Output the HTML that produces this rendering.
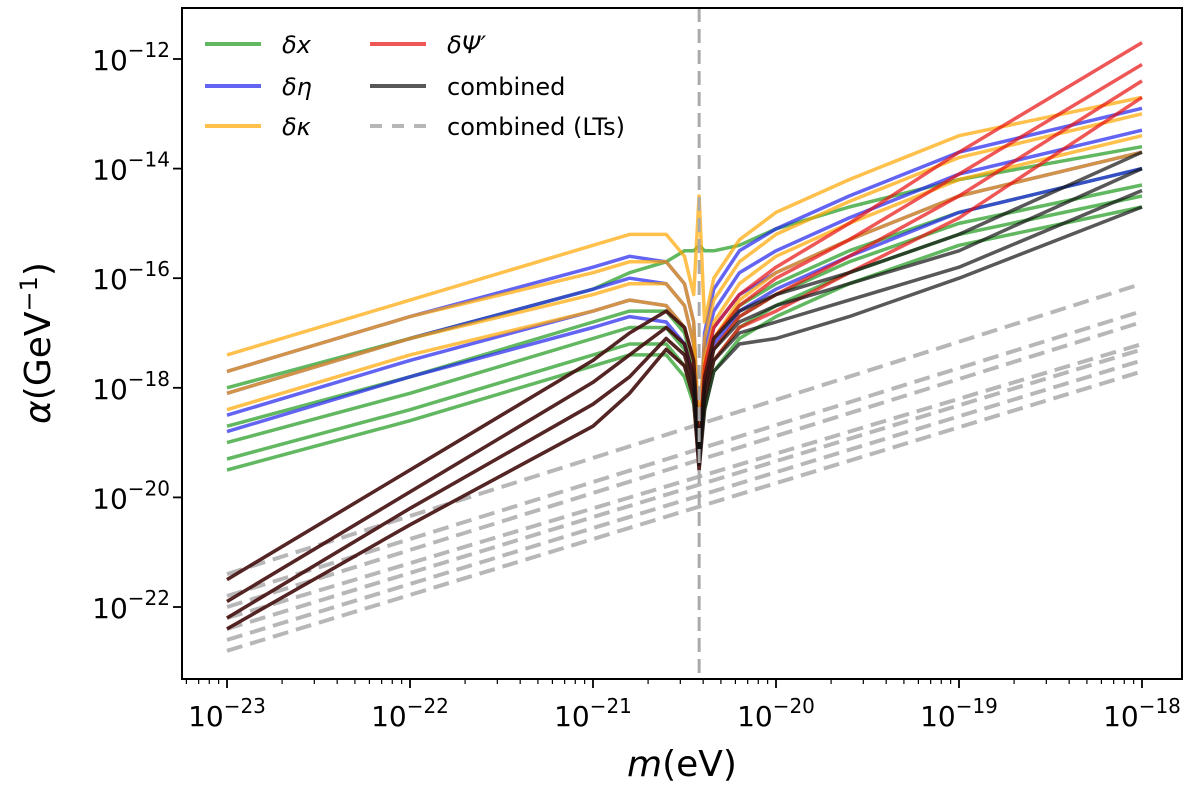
<!DOCTYPE html>
<html><head><meta charset="utf-8"><style>
html,body{margin:0;padding:0;background:#fff;}
svg{display:block;font-family:"DejaVu Sans","Liberation Sans",sans-serif;}
</style></head><body>
<svg id="chart" width="1200" height="785" viewBox="0 0 1200 785" xmlns="http://www.w3.org/2000/svg"></svg>
<script>
// mass grid (log10 m in eV)
const masses = [-23,-22,-21,-20.8,-20.6,-20.5,-20.45,-20.42,-20.39,-20.34,-20.2,-20,-19.6,-19,-18];
const greenSeries = [
 [-18.0,-17.1,-16.2,-15.9,-15.7,-15.5,-15.5,-15.4,-15.5,-15.5,-15.4,-15.1,-14.7,-14.2,-13.6],
 [-18.7,-17.8,-16.8,-16.6,-16.6,-17.0,-17.6,-19.0,-17.8,-17.1,-16.5,-16.1,-15.5,-14.8,-14.0],
 [-19.0,-18.1,-17.1,-16.9,-16.9,-17.3,-17.9,-19.1,-18.0,-17.3,-16.7,-16.3,-15.7,-15.0,-14.3],
 [-19.3,-18.4,-17.4,-17.2,-17.2,-17.6,-18.1,-19.2,-18.2,-17.5,-16.9,-16.5,-15.9,-15.2,-14.5],
 [-19.5,-18.6,-17.6,-17.4,-17.4,-17.8,-18.3,-19.3,-18.4,-17.7,-17.1,-16.7,-16.1,-15.4,-14.7]
];
const blueSeries = [
 [-17.7,-16.7,-15.8,-15.6,-15.7,-16.1,-16.8,-19.0,-17.0,-16.2,-15.5,-15.1,-14.5,-13.7,-12.9],
 [-18.1,-17.1,-16.2,-16.0,-16.1,-16.5,-17.2,-19.1,-17.3,-16.6,-15.9,-15.5,-14.9,-14.1,-13.3],
 [-18.5,-17.5,-16.6,-16.4,-16.5,-16.9,-17.5,-19.2,-17.6,-16.9,-16.3,-15.9,-15.3,-14.5,-13.7],
 [-18.8,-17.8,-16.9,-16.7,-16.8,-17.2,-17.8,-19.3,-17.9,-17.2,-16.6,-16.2,-15.6,-14.8,-14.0]
];
const orangeSeries = [
 [-17.4,-16.4,-15.4,-15.2,-15.2,-15.6,-16.3,-14.5,-16.8,-16.0,-15.3,-14.8,-14.2,-13.4,-12.7],
 [-17.7,-16.7,-15.9,-15.7,-15.7,-16.1,-16.8,-18.9,-17.1,-16.4,-15.7,-15.2,-14.6,-13.8,-13.0],
 [-18.1,-17.1,-16.3,-16.1,-16.1,-16.5,-17.2,-19.0,-17.5,-16.8,-16.1,-15.6,-15.0,-14.2,-13.4],
 [-18.4,-17.4,-16.6,-16.4,-16.5,-16.9,-17.5,-19.1,-17.8,-17.1,-16.4,-15.9,-15.3,-14.5,-13.7]
];
const redSeries = [
 [-21.5,-19.5,-17.5,-17.0,-16.6,-16.9,-17.5,-19.2,-17.6,-16.9,-16.3,-15.8,-15.0,-13.7,-11.7],
 [-21.9,-19.9,-17.9,-17.4,-16.9,-17.2,-17.8,-19.3,-17.8,-17.1,-16.5,-16.0,-15.3,-14.1,-12.1],
 [-22.2,-20.2,-18.3,-17.8,-17.1,-17.4,-18.0,-19.4,-18.0,-17.3,-16.7,-16.3,-15.6,-14.5,-12.4],
 [-22.4,-20.5,-18.7,-18.1,-17.3,-17.6,-18.2,-19.5,-18.2,-17.5,-16.9,-16.6,-15.9,-14.9,-12.7]
];
const blackSeries = [
 [-21.5,-19.5,-17.5,-17.0,-16.6,-16.9,-17.5,-19.2,-17.8,-17.1,-16.6,-16.3,-15.9,-15.2,-13.7],
 [-21.9,-19.9,-17.9,-17.4,-16.9,-17.2,-17.8,-19.3,-18.0,-17.3,-16.8,-16.5,-16.1,-15.5,-14.0],
 [-22.2,-20.2,-18.3,-17.8,-17.1,-17.4,-18.0,-19.4,-18.2,-17.5,-17.0,-16.8,-16.4,-15.8,-14.4],
 [-22.4,-20.5,-18.7,-18.1,-17.3,-17.6,-18.2,-19.5,-18.4,-17.7,-17.2,-17.1,-16.7,-16.0,-14.7]
];
const ltMasses = [-23,-18];
const ltSeries = [[-21.4,-16.1],[-21.8,-16.6],[-22.0,-16.8],[-22.2,-17.2],[-22.4,-17.3],[-22.6,-17.5],[-22.8,-17.7]];
const resonanceMass = -20.42;
const xTickLabels = ["−23","−22","−21","−20","−19","−18"];
const xTicks = [-23,-22,-21,-20,-19,-18];
const yTicks = [-12,-14,-16,-18,-20,-22];
const yTickLabels = ["−12","−14","−16","−18","−20","−22"];

const NS="http://www.w3.org/2000/svg";
const svg=document.getElementById('chart');
const L=182,R=1182,T=8,B=679;
function X(v){return 227+(v+23)*183;}
function Y(v){return 59+(-12-v)*54.8;}
function mk(tag,attrs,parent){const e=document.createElementNS(NS,tag);for(const k in attrs)e.setAttribute(k,attrs[k]);(parent||svg).appendChild(e);return e;}

const clip=mk('clipPath',{id:'pc'});mk('rect',{x:L,y:T,width:R-L,height:B-T},clip);
const g=mk('g',{'clip-path':'url(#pc)'});



function line(xs,ys,color,w,op,name,dash){
  const p=xs.map((m,i)=>X(m).toFixed(1)+','+Y(ys[i]).toFixed(1)).join(' ');
  const e=mk('polyline',{points:p,fill:'none',stroke:color,'stroke-width':w,'stroke-opacity':op,'stroke-linejoin':'round'},g);
  if(dash)e.setAttribute('stroke-dasharray',dash);
  
  
}
ltSeries.forEach((s,i)=>line(ltMasses,s,'#999',4,0.7,'lt-line-'+i,'16,8'));
greenSeries.forEach((s,i)=>line(masses,s,'#2ca02c',3.5,0.75,'dx-line-'+i));
blueSeries.forEach((s,i)=>line(masses,s,'#2222ee',3.5,0.7,'deta-line-'+i));
orangeSeries.forEach((s,i)=>line(masses,s,'#ffa500',3.5,0.7,'dkappa-line-'+i));
redSeries.forEach((s,i)=>line(masses,s,'#e81010',3.5,0.7,'dpsi-line-'+i));
blackSeries.forEach((s,i)=>line(masses,s,'#111',3.5,0.7,'combined-line-'+i));
const vl=mk('line',{x1:X(resonanceMass),x2:X(resonanceMass),y1:T,y2:B,stroke:'#aaa','stroke-width':3,'stroke-dasharray':'14,7'},g);



const frame=mk('rect',{x:L,y:T,width:R-L,height:B-T,fill:'none',stroke:'#000','stroke-width':2});



xTicks.forEach((v,i)=>{
  mk('line',{x1:X(v),x2:X(v),y1:B,y2:B+9,stroke:'#000','stroke-width':1.8});
  const t=mk('text',{x:X(v),y:B+47,'font-size':28,'text-anchor':'middle'});
  
  
  t.innerHTML='10<tspan dy="-13" font-size="20">'+xTickLabels[i]+'</tspan>';
});
for(let d=-24;d<-18;d++){for(let k=2;k<10;k++){const v=d+Math.log10(k);if(X(v)>L&&X(v)<R)mk('line',{x1:X(v),x2:X(v),y1:B,y2:B+5,stroke:'#000','stroke-width':1.2});}}
yTicks.forEach((v,i)=>{
  mk('line',{x1:L-9,x2:L,y1:Y(v),y2:Y(v),stroke:'#000','stroke-width':1.8});
  const t=mk('text',{x:L-12,y:Y(v)+11,'font-size':28,'text-anchor':'end'});
  
  
  t.innerHTML='10<tspan dy="-13" font-size="20">'+yTickLabels[i]+'</tspan>';
});
const xl=mk('text',{x:682,y:776,'font-size':36,'text-anchor':'middle'});


xl.innerHTML='<tspan font-style="italic">m</tspan>(eV)';
const yl=mk('text',{x:50,y:343,'font-size':36,'text-anchor':'middle',transform:'rotate(-90 50 343)'});


yl.innerHTML='<tspan font-style="italic">α</tspan>(GeV<tspan dy="-13" font-size="24">−1</tspan><tspan dy="13">)</tspan>';

const leg=[['#2ca02c',0.75,'δx',203,44,true,null],['#2222ee',0.7,'δη',203,86,true,null],['#ffa500',0.7,'δκ',203,126,true,null],
 ['#e81010',0.7,'δΨ′',368,44,true,null],['#111',0.7,'combined',368,86,false,null],['#999',0.7,'combined (LTs)',368,126,false,'12,10']];
leg.forEach(l=>{
  const e=mk('g',{});
  
  
  const ln=mk('line',{x1:l[3]+2,x2:l[3]+58,y1:l[4],y2:l[4],stroke:l[0],'stroke-opacity':l[1],'stroke-width':4},e);
  if(l[6])ln.setAttribute('stroke-dasharray',l[6]);
  const t=mk('text',{x:l[3]+79,y:l[4]+9,'font-size':24},e);
  if(l[5])t.setAttribute('font-style','italic');
  t.textContent=l[2];
});
</script>
</body></html>
